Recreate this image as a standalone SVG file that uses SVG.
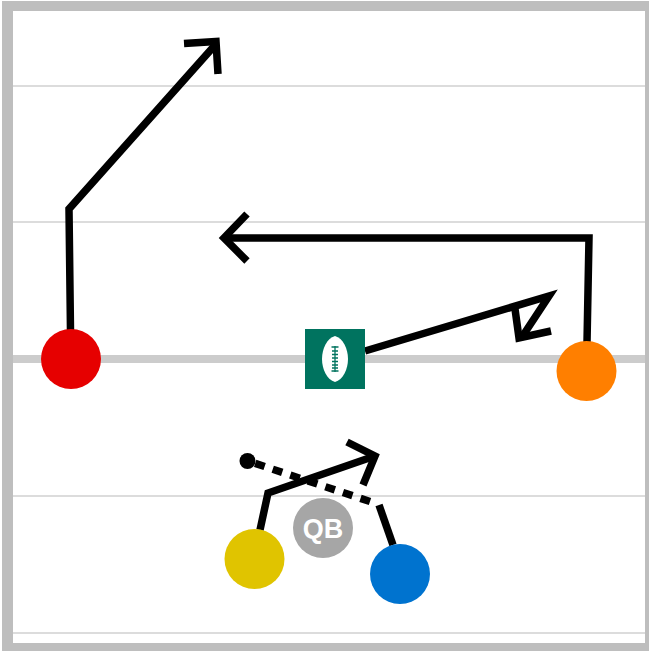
<svg xmlns="http://www.w3.org/2000/svg" width="649" height="651" viewBox="0 0 649 651">
<style>
.yard{stroke:#dcdcdc;stroke-width:2;fill:none}
.frame{fill:#bebebe}
.route{fill:none;stroke:#000;stroke-width:7.500;stroke-linejoin:miter;stroke-linecap:butt}
text{font-family:"Liberation Sans",Arial,sans-serif;font-weight:bold}
</style>
<rect width="649" height="651" fill="#fff"/>
<g id="field">
<line class="yard" x1="12" y1="86" x2="645" y2="86"/>
<line class="yard" x1="12" y1="222" x2="645" y2="222"/>
<line class="yard" x1="12" y1="496" x2="645" y2="496"/>
<line class="yard" x1="12" y1="633" x2="645" y2="633"/>
<line x1="12" y1="359" x2="645" y2="359" stroke="#cccccc" stroke-width="8"/>
<rect class="frame" x="2" y="1" width="647" height="10"/>
<rect class="frame" x="2" y="643" width="647" height="8"/>
<rect class="frame" x="2" y="1" width="11" height="650"/>
<rect class="frame" x="645" y="1" width="4" height="650"/>
</g>
<g id="connectors">
<polyline class="route" points="70.500,331 69,209 216,44"/>
<polyline class="route" points="184,43.500 216,41.500 218,74"/>
<polyline class="route" points="587,343 589,238 225,238"/>
<polyline class="route" points="247,214 224,238 247,261"/>
<polyline class="route" points="365,351 549,296 522,337"/>
<polyline class="route" points="515,309 519,338 551,331"/>
<polyline class="route" points="260,530 268,493 375,456"/>
<polyline class="route" points="347,442 375,456 363,485"/>
<polyline class="route" points="393,545 379,505"/>
<line class="route" x1="370" y1="501.500" x2="248" y2="461" stroke-dasharray="10 8.500"/>
<circle cx="247.500" cy="461" r="8" fill="#000"/>
</g>
<g id="ball">
<rect x="305" y="329" width="60" height="60" fill="#00735f"/>
<path d="M335 336 C343 338 348 349 348 359 C348 369 343 380 335 382 C327 380 322 369 322 359 C322 349 327 338 335 336Z" fill="#fff"/>
<path d="M335 346V372M331.500 347H338.500M331.500 371H338.500M332 351H338M332 354.500H338M332 358H338M332 361.500H338M332 365H338M332 368H338" stroke="#00735f" stroke-width="1.300" fill="none"/>
</g>
<g id="red"><circle cx="71" cy="359" r="30" fill="#e60000"/></g>
<g id="orange"><circle cx="586.500" cy="371" r="30" fill="#ff7f00"/></g>
<g id="yellow"><circle cx="254.500" cy="559" r="30" fill="#e0c400"/></g>
<g id="blue"><circle cx="400" cy="574" r="30" fill="#0073cf"/></g>
<g id="qb"><circle cx="323" cy="528" r="30" fill="#a6a6a6"/><text x="323" y="538" font-size="27" fill="#fff" text-anchor="middle">QB</text></g>
</svg>
